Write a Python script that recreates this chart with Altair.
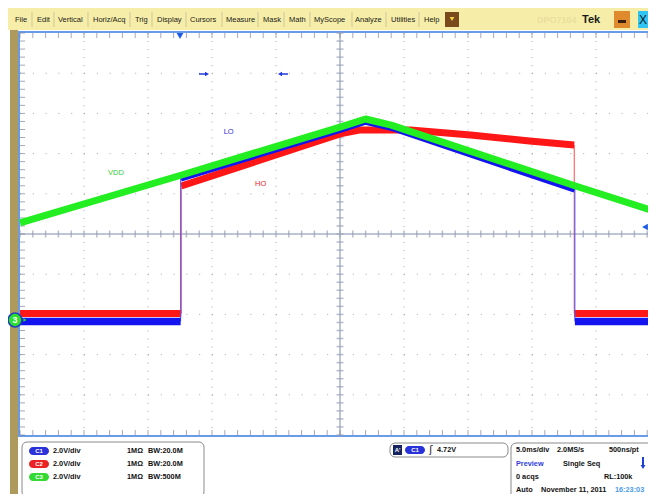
import altair as alt
import pandas as pd

# ---------------- values ----------------
# horizontal: 5.0 ms/div x 10 div -> 0..50 ms ; vertical: 2.0 V/div x 10 div -> -10..10 V
vdd_t = [0.0, 12.5, 25.0, 27.0, 29.0, 43.4, 50.0]
vdd_v = [0.55, 2.91, 5.32, 5.72, 5.42, 2.39, 1.05]

lo_high_t = [12.55, 25.0, 27.0, 29.0, 43.35]
lo_high_v = [2.79, 5.22, 5.62, 5.32, 2.24]
lo_low_v = -4.35
lo_edge_t = [12.55, 43.35]

ho_high_t = [12.6, 25.0, 26.5, 30.5, 35.2, 39.8, 43.3]
ho_high_v = [2.39, 4.98, 5.17, 5.17, 4.93, 4.63, 4.43]
ho_low_v = -3.96
ho_edge_t = [12.6, 43.3]

label_names = ["VDD", "LO", "HO"]
label_t = [7.5, 16.3, 18.8]
label_v = [3.03, 5.07, 2.49]

t_start, t_end = 0.0, 50.0
v_bottom, v_top = -10.0, 10.0
grid_t = [5, 10, 15, 20, 30, 35, 40, 45]
grid_v = [-8, -6, -4, -2, 2, 4, 6, 8]
minor_t = [float(i) for i in range(0, 51)]
minor_v = [round(-10 + 0.4 * i, 2) for i in range(0, 51)]

menu_items = ["File", "Edit", "Vertical", "Horiz/Acq", "Trig", "Display", "Cursors",
              "Measure", "Mask", "Math", "MyScope", "Analyze", "Utilities", "Help"]
menu_x = [15, 37, 58, 93, 135, 157, 190, 226, 263, 289, 314, 355, 391, 424]
menu_sep_x = [32, 54, 88, 130, 152, 186, 222, 258, 284, 310, 352, 386, 419]

C_BLUE = "#1414F0"
C_RED = "#FF1616"
C_GREEN = "#22EE22"

# ---------------- layout helpers ----------------
W, H = 640, 486
OFF = 8
FONT = "Liberation Sans"

XS = alt.Scale(domain=[t_start, t_end], range=[20 - OFF, 660 - OFF])
YS = alt.Scale(domain=[v_bottom, v_top], range=[435 - OFF, 33 - OFF])


def TX(f):
    return alt.X(f"{f}:Q", scale=XS, axis=None)


def TY(f):
    return alt.Y(f"{f}:Q", scale=YS, axis=None)


def PX(f):
    return alt.X(f"{f}:Q", scale=None, axis=None)


def PY(f):
    return alt.Y(f"{f}:Q", scale=None, axis=None)


def pxdf(rows, cols):
    df = pd.DataFrame(rows, columns=cols)
    for c in ("x", "x2", "y", "y2"):
        if c in df.columns:
            df[c] = df[c] - OFF
    return df


layers = []

# ---- screen chrome: menu bar, left strip, buttons ----
rects = pxdf([
    (0, 660, 7, 30, "#F6EEA8"),
    (10, 18, 30, 510, "#AE9A5C"),
    (445, 459, 12, 27, "#7B4A1C"),
    (614, 630, 11, 28, "#E08A2E"),
    (638, 664, 11, 28, "#30C4F2"),
], ["x", "x2", "y", "y2", "fill"])
layers.append(alt.Chart(rects).mark_rect().encode(
    x=PX("x"), x2="x2:Q", y=PY("y"), y2="y2:Q", fill=alt.Fill("fill:N", scale=None)))

seps = pxdf([(x, 12, 27) for x in menu_sep_x], ["x", "y", "y2"])
layers.append(alt.Chart(seps).mark_rule(color="#CFC59A", strokeWidth=1).encode(
    x=PX("x"), y=PY("y"), y2="y2:Q"))

menu_df = pxdf([(m, x, 20) for m, x in zip(menu_items, menu_x)], ["text", "x", "y"])
layers.append(alt.Chart(menu_df).mark_text(
    align="left", baseline="middle", font=FONT, fontSize=7.5, color="#1A1A1A").encode(
    x=PX("x"), y=PY("y"), text="text:N"))

tek_df = pxdf([("DPO7104", 537, 20, "#E9DF9E", 9), ("Tek", 582, 20, "#1A1A1A", 11)],
              ["text", "x", "y", "color", "size"])
layers.append(alt.Chart(tek_df).mark_text(
    align="left", baseline="middle", font=FONT, fontWeight="bold").encode(
    x=PX("x"), y=PY("y"), text="text:N", color=alt.Color("color:N", scale=None),
    size=alt.Size("size:Q", scale=None)))

btn_marks = pxdf([(452, 19, "triangle-down", 22, "#F2D24A")], ["x", "y", "shape", "size", "fill"])
layers.append(alt.Chart(btn_marks).mark_point(filled=True, opacity=1).encode(
    x=PX("x"), y=PY("y"), shape=alt.Shape("shape:N", scale=None),
    size=alt.Size("size:Q", scale=None), color=alt.Color("fill:N", scale=None)))
btn_bars = pxdf([(618, 626, 20, 23, "#3A2010")], ["x", "x2", "y", "y2", "fill"])
layers.append(alt.Chart(btn_bars).mark_rect().encode(
    x=PX("x"), x2="x2:Q", y=PY("y"), y2="y2:Q", fill=alt.Fill("fill:N", scale=None)))
xbtn = pxdf([("X", 643, 20)], ["text", "x", "y"])
layers.append(alt.Chart(xbtn).mark_text(
    align="center", baseline="middle", font=FONT, fontSize=12, color="#10202A").encode(
    x=PX("x"), y=PY("y"), text="text:N"))

# ---- plot frame ----
frame = pxdf([(19, 664, 32, 436)], ["x", "x2", "y", "y2"])
layers.append(alt.Chart(frame).mark_rect(fill="white", stroke="#6A9BE6", strokeWidth=2).encode(
    x=PX("x"), x2="x2:Q", y=PY("y"), y2="y2:Q"))

# ---- graticule ----
gv = pd.DataFrame({"t": grid_t, "v1": v_top, "v2": v_bottom})
layers.append(alt.Chart(gv).mark_rule(color="#A6A6A6", strokeWidth=1, strokeDash=[1, 7.04]).encode(
    x=TX("t"), y=TY("v1"), y2="v2:Q"))
gh = pd.DataFrame({"v": grid_v, "t1": t_start, "t2": t_end})
layers.append(alt.Chart(gh).mark_rule(color="#A6A6A6", strokeWidth=1, strokeDash=[1, 11.8]).encode(
    x=TX("t1"), x2="t2:Q", y=TY("v")))

cv = pd.DataFrame({"t": [25.0], "v1": [v_top], "v2": [v_bottom]})
layers.append(alt.Chart(cv).mark_rule(color="#BEC6D6", strokeWidth=2).encode(
    x=TX("t"), y=TY("v1"), y2="v2:Q"))
ch = pd.DataFrame({"v": [0.0], "t1": [t_start], "t2": [t_end]})
layers.append(alt.Chart(ch).mark_rule(color="#BEC6D6", strokeWidth=2).encode(
    x=TX("t1"), x2="t2:Q", y=TY("v")))

tick_h = pd.DataFrame({"t": minor_t, "v": 0.0})
layers.append(alt.Chart(tick_h).mark_tick(orient="vertical", size=7, thickness=1.5, color="#98A0B8").encode(
    x=TX("t"), y=TY("v")))
tick_v = pd.DataFrame({"t": 25.0, "v": minor_v})
layers.append(alt.Chart(tick_v).mark_tick(orient="horizontal", size=7, thickness=1.5, color="#98A0B8").encode(
    x=TX("t"), y=TY("v")))

edge_top = pd.DataFrame({"t": minor_t, "v": v_top})
layers.append(alt.Chart(edge_top).mark_tick(orient="vertical", size=5, thickness=1, color="#7C849C", yOffset=2.5).encode(
    x=TX("t"), y=TY("v")))
edge_bot = pd.DataFrame({"t": minor_t, "v": v_bottom})
layers.append(alt.Chart(edge_bot).mark_tick(orient="vertical", size=5, thickness=1, color="#7C849C", yOffset=-2.5).encode(
    x=TX("t"), y=TY("v")))
edge_left = pd.DataFrame({"t": t_start, "v": minor_v})
layers.append(alt.Chart(edge_left).mark_tick(orient="horizontal", size=5, thickness=1, color="#7C849C", xOffset=2.5).encode(
    x=TX("t"), y=TY("v")))


# ---- waveforms ----
def trace(high_t, high_v, edge_t, low_v):
    rows = [(t_start, low_v, "a"), (edge_t[0], low_v, "a")]
    rows += [(t, v, "b") for t, v in zip(high_t, high_v)]
    rows += [(edge_t[1], low_v, "c"), (t_end, low_v, "c")]
    segs = pd.DataFrame(rows, columns=["t", "v", "seg"])
    edges = pd.DataFrame({"t": edge_t, "v1": [low_v, low_v], "v2": [high_v[0], high_v[-1]]})
    return segs, edges


ho_segs, ho_edges = trace(ho_high_t, ho_high_v, ho_edge_t, ho_low_v)
lo_segs, lo_edges = trace(lo_high_t, lo_high_v, lo_edge_t, lo_low_v)
vdd_df = pd.DataFrame({"t": vdd_t, "v": vdd_v})

layers.append(alt.Chart(ho_edges).mark_rule(color="#FF4A4A", strokeWidth=1).encode(
    x=TX("t"), y=TY("v1"), y2="v2:Q"))
layers.append(alt.Chart(ho_segs).mark_line(color=C_RED, strokeWidth=7, strokeCap="butt", strokeJoin="round").encode(
    x=TX("t"), y=TY("v"), detail="seg:N"))
layers.append(alt.Chart(lo_edges).mark_rule(color="#4A55FF", strokeWidth=1).encode(
    x=TX("t"), y=TY("v1"), y2="v2:Q"))
layers.append(alt.Chart(lo_segs).mark_line(color=C_BLUE, strokeWidth=7.5, strokeCap="butt", strokeJoin="round").encode(
    x=TX("t"), y=TY("v"), detail="seg:N"))
layers.append(alt.Chart(vdd_df).mark_line(color=C_GREEN, strokeWidth=7, strokeCap="butt", strokeJoin="round").encode(
    x=TX("t"), y=TY("v")))

lab = pd.DataFrame({"t": label_t, "v": label_v, "text": label_names,
                    "color": ["#33CC33", "#2A2ADD", "#EE2222"]})
layers.append(alt.Chart(lab).mark_text(font=FONT, fontSize=7.5, align="center", baseline="middle").encode(
    x=TX("t"), y=TY("v"), text="text:N", color=alt.Color("color:N", scale=None)))

# ---- markers on the screen ----
arrow_lines = pxdf([(199, 206, 74), (281, 288, 74), ], ["x", "x2", "y"])
layers.append(alt.Chart(arrow_lines).mark_rule(color="#2038E0", strokeWidth=1.5).encode(
    x=PX("x"), x2="x2:Q", y=PY("y")))
markers = pxdf([
    (207, 74, "triangle-right", 22, "#2038E0"),
    (280, 74, "triangle-left", 22, "#2038E0"),
    (180, 36, "triangle-down", 45, "#1E5BE6"),
    (645, 227, "triangle-left", 45, "#1E5BE6"),
    (25, 320, "triangle-right", 14, "#2EE02E"),
], ["x", "y", "shape", "size", "fill"])
layers.append(alt.Chart(markers).mark_point(filled=True, opacity=1).encode(
    x=PX("x"), y=PY("y"), shape=alt.Shape("shape:N", scale=None),
    size=alt.Size("size:Q", scale=None), color=alt.Color("fill:N", scale=None)))

gnd = pxdf([(15, 320)], ["x", "y"])
layers.append(alt.Chart(gnd).mark_point(shape="circle", size=190, fill="#2EE02E", fillOpacity=1,
                                        stroke="#2040C0", strokeWidth=1.5, opacity=1).encode(
    x=PX("x"), y=PY("y")))
gnd_t = pxdf([("3", 15, 320)], ["text", "x", "y"])
layers.append(alt.Chart(gnd_t).mark_text(font=FONT, fontSize=9, fontWeight="bold", color="white",
                                         align="center", baseline="middle").encode(
    x=PX("x"), y=PY("y"), text="text:N"))

# ---- bottom info boxes ----
boxes = pxdf([(22, 204, 442, 497), (390, 508, 443, 457), (511, 680, 443, 500)], ["x", "x2", "y", "y2"])
layers.append(alt.Chart(boxes).mark_rect(fill="white", stroke="#8A8A8A", strokeWidth=1, cornerRadius=5).encode(
    x=PX("x"), x2="x2:Q", y=PY("y"), y2="y2:Q"))

badges = pxdf([
    (29, 49, 447, 455, "#2A32DA"),
    (29, 49, 460, 468, "#EA2222"),
    (29, 49, 473, 481, "#33DA33"),
    (405, 425, 446, 454, "#2A32DA"),
], ["x", "x2", "y", "y2", "fill"])
layers.append(alt.Chart(badges).mark_rect(cornerRadius=4).encode(
    x=PX("x"), x2="x2:Q", y=PY("y"), y2="y2:Q", fill=alt.Fill("fill:N", scale=None)))
asq = pxdf([(393, 402, 445, 455, "#16235E")], ["x", "x2", "y", "y2", "fill"])
layers.append(alt.Chart(asq).mark_rect().encode(
    x=PX("x"), x2="x2:Q", y=PY("y"), y2="y2:Q", fill=alt.Fill("fill:N", scale=None)))

badge_txt = pxdf([("C1", 39, 451), ("C2", 39, 464), ("C3", 39, 477), ("C1", 415, 450), ("A'", 397.5, 450)],
                 ["text", "x", "y"])
layers.append(alt.Chart(badge_txt).mark_text(font=FONT, fontSize=6, fontWeight="bold", color="white",
                                             align="center", baseline="middle").encode(
    x=PX("x"), y=PY("y"), text="text:N"))

info = pxdf([
    ("2.0V/div", 53, 451, "#111111"), ("2.0V/div", 53, 464, "#111111"), ("2.0V/div", 53, 477, "#111111"),
    ("1MΩ", 127, 451, "#111111"), ("1MΩ", 127, 464, "#111111"), ("1MΩ", 127, 477, "#111111"),
    ("BW:20.0M", 148, 451, "#111111"), ("BW:20.0M", 148, 464, "#111111"), ("BW:500M", 148, 477, "#111111"),
    ("4.72V", 437, 450, "#111111"),
    ("5.0ms/div", 516, 450, "#111111"), ("2.0MS/s", 557, 450, "#111111"), ("500ns/pt", 609, 450, "#111111"),
    ("Preview", 516, 463.5, "#3040E0"), ("Single Seq", 563, 463.5, "#111111"),
    ("0 acqs", 516, 477, "#111111"), ("RL:100k", 604, 477, "#111111"),
    ("Auto", 516, 489.5, "#111111"), ("November 11, 2011", 541, 489.5, "#111111"), ("16:23:03", 615, 489.5, "#4A9CEA"),
], ["text", "x", "y", "color"])
layers.append(alt.Chart(info).mark_text(font=FONT, fontSize=7.3, fontWeight="bold",
                                        align="left", baseline="middle").encode(
    x=PX("x"), y=PY("y"), text="text:N", color=alt.Color("color:N", scale=None)))

edge_sym = pxdf([("ʃ", 431, 450)], ["text", "x", "y"])
layers.append(alt.Chart(edge_sym).mark_text(font="DejaVu Sans", fontSize=10, color="#111111",
                                            align="center", baseline="middle").encode(
    x=PX("x"), y=PY("y"), text="text:N"))

darrow = pxdf([(643, 457, 465)], ["x", "y", "y2"])
layers.append(alt.Chart(darrow).mark_rule(color="#1E3FD8", strokeWidth=2).encode(
    x=PX("x"), y=PY("y"), y2="y2:Q"))
dhead = pxdf([(643, 467, "triangle-down", 24, "#1E3FD8")], ["x", "y", "shape", "size", "fill"])
layers.append(alt.Chart(dhead).mark_point(filled=True, opacity=1).encode(
    x=PX("x"), y=PY("y"), shape=alt.Shape("shape:N", scale=None),
    size=alt.Size("size:Q", scale=None), color=alt.Color("fill:N", scale=None)))

chart = alt.layer(*layers).resolve_scale(
    x="independent", y="independent", color="independent", shape="independent", size="independent",
    fill="independent"
).properties(
    width=W, height=H, padding=0, autosize=alt.AutoSizeParams(type="none")
).configure_view(stroke=None)

chart.save("out.html", embed_options={"renderer": "svg", "actions": False})
